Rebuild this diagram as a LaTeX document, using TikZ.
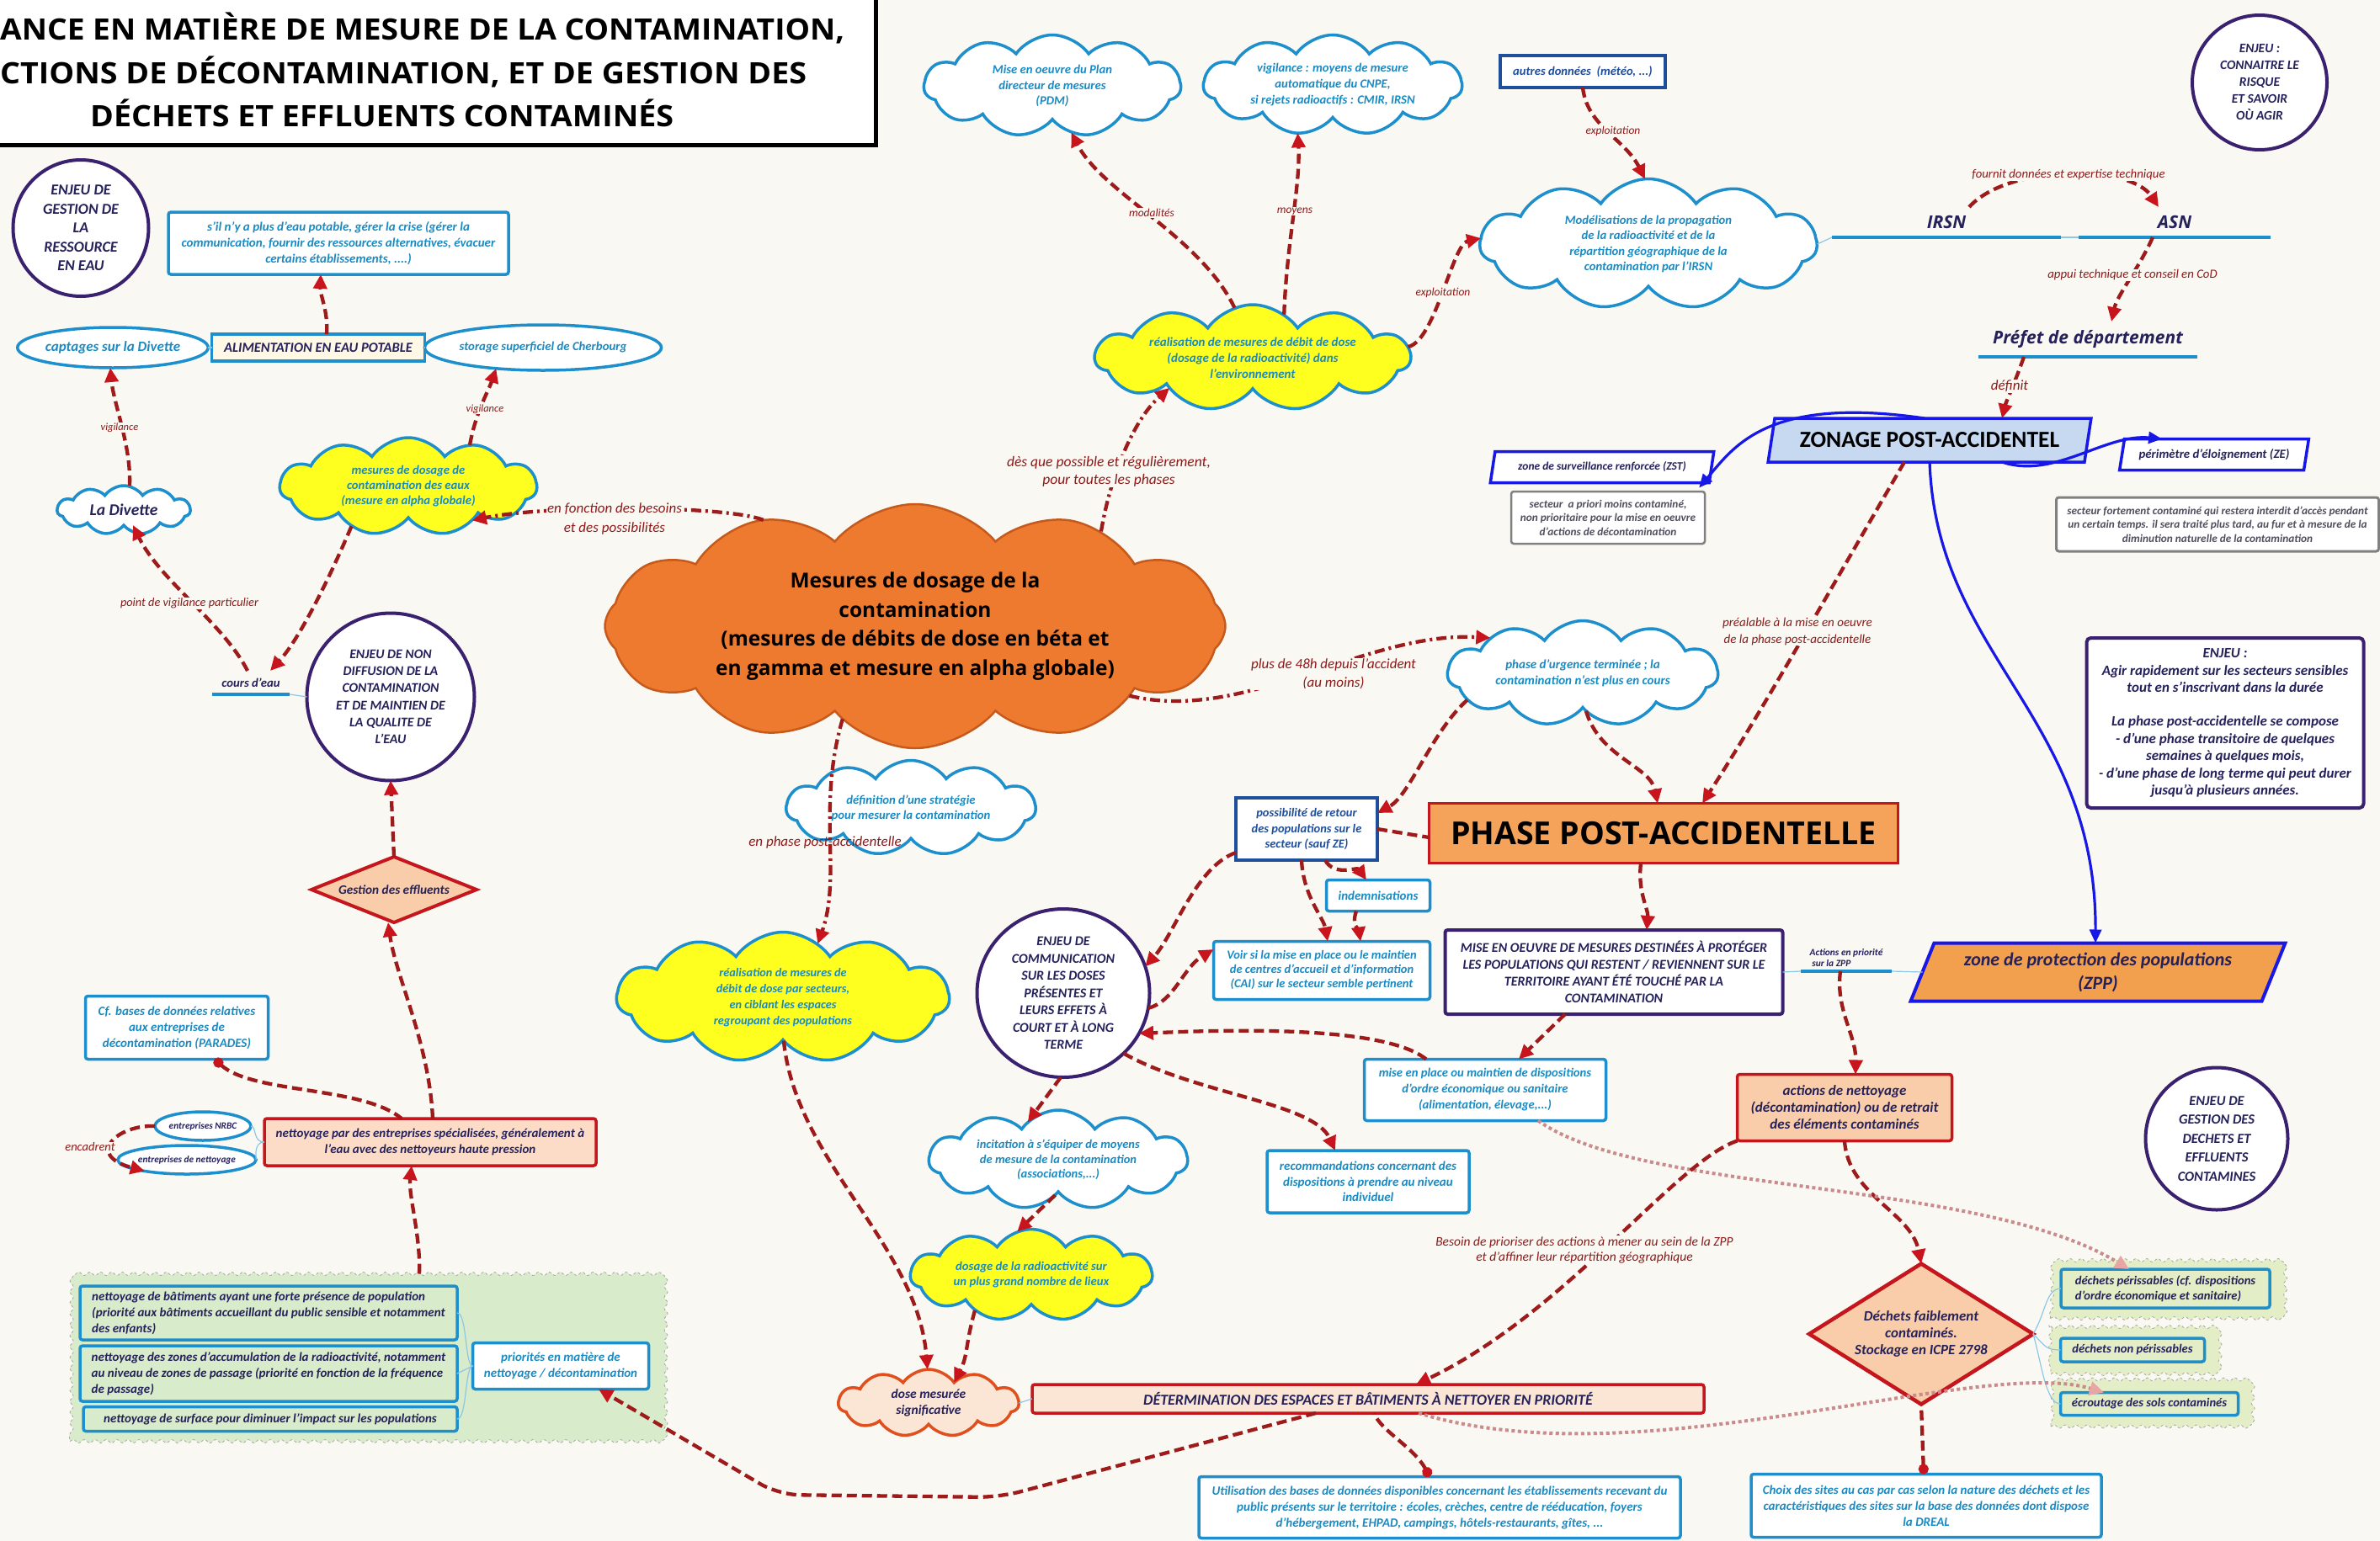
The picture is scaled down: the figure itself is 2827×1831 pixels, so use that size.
\documentclass[tikz,border=0pt]{standalone}
\usepackage{fontspec}
\setmainfont{Carlito}
\newfontfamily\osans{Open Sans}
\usetikzlibrary{shapes.geometric,shapes.symbols,arrows.meta,decorations.pathmorphing}
\newcommand\setfs[2]{\fontsize{#1}{#2}\selectfont}
\newcommand\bfi[2]{\fontsize{#1}{#2}\selectfont\bfseries\itshape}
\definecolor{bg}{HTML}{FAF8F3}
\definecolor{cblue}{HTML}{1C8FCC}
\definecolor{tblue}{HTML}{1A8AC2}
\definecolor{navy}{HTML}{25215A}
\definecolor{purp}{HTML}{3A2170}
\definecolor{darkred}{HTML}{9E1B1B}
\definecolor{tipred}{HTML}{C8141C}
\definecolor{lblred}{HTML}{8C1A1A}
\definecolor{orangec}{HTML}{EE7A30}
\definecolor{orangeb}{HTML}{C65A1C}
\definecolor{yel}{HTML}{FFFF1F}
\definecolor{peach}{HTML}{F9CDAA}
\definecolor{peach2}{HTML}{FCDCC6}
\definecolor{peachlt}{HTML}{FBE6D6}
\definecolor{boxred}{HTML}{C4161C}
\definecolor{phaseor}{HTML}{F5A35A}
\definecolor{zblue}{HTML}{1717E6}
\definecolor{zfill}{HTML}{C6D9F0}
\definecolor{zppor}{HTML}{F3A04E}
\definecolor{greenf}{HTML}{D8EBCB}
\definecolor{greenw}{HTML}{E3EEC6}
\definecolor{grayb}{HTML}{808080}
\definecolor{gtext}{HTML}{4F4F5F}
\definecolor{pinkd}{HTML}{C98B8B}
\definecolor{pinkt}{HTML}{E7A5A5}
\definecolor{navybox}{HTML}{1F4E9B}
\definecolor{lightline}{HTML}{8CC8E6}
\definecolor{cream}{HTML}{FFF8E7}
\definecolor{dosered}{HTML}{E0501E}
\tikzset{
  nb/.style={align=center, inner sep=0pt, outer sep=0pt},
  bbox/.style={nb, draw=cblue, line width=3.5pt, rounded corners=3pt, fill=white, text=tblue, font=\bfi{15}{19}},
  cl/.style={nb, cloud, cloud puffs=11, cloud puff arc=110, cloud ignores aspect, draw=cblue, line width=3.5pt, fill=white, text=tblue, font=\bfi{14.7}{18.6}},
  ycl/.style={cl, fill=yel},
  ell/.style={nb, ellipse, draw=cblue, line width=3.5pt, fill=white, text=tblue, font=\bfi{14.8}{18}},
  enjeu/.style={nb, ellipse, draw=purp, line width=4pt, fill=white, text=navy, font=\bfi{16}{20.5}},
  rbox/.style={nb, draw=boxred, line width=3.5pt, rounded corners=3pt, fill=peach, text=navy, font=\bfi{15}{19}},
  para/.style={nb, trapezium, trapezium left angle=70, trapezium right angle=110, trapezium stretches=true, draw=zblue, line width=3.5pt, fill=white, text=navy, font=\bfi{13.5}{17}},
  gbox/.style={nb, draw=grayb, line width=2.5pt, rounded corners=3pt, fill=white, text=gtext, font=\bfi{13.3}{16.5}},
  hdr/.style={nb, text=navy, font=\osans\bfseries\itshape\setfs{20}{24}},
  lbl/.style={inner sep=1pt, text=lblred, align=center, font=\itshape\setfs{15}{18}},
  lblbg/.style={lbl, fill=bg},
  arr/.style={draw=darkred, line width=4.3pt, dash pattern=on 12pt off 6pt, -{Triangle[length=17pt,width=16pt,color=tipred]}},
  arrdd/.style={arr, dash pattern=on 12pt off 5pt on 3pt off 5pt},
  dotarr/.style={draw=pinkd, line width=4pt, dash pattern=on 4pt off 3.5pt, -{Triangle[length=17pt,width=16pt,color=pinkt]}},
  dotln/.style={draw=darkred, line width=4.3pt, dash pattern=on 12pt off 6pt, {Circle[length=12pt,color=tipred]}-},
  thinln/.style={draw=lightline, line width=1.2pt},
  barr/.style={draw=zblue, line width=3.2pt, -{Triangle[length=16pt,width=14pt]}},
  uline/.style={draw=cblue, line width=4.5pt},
  greenwave/.style={nb, decorate, decoration={snake, amplitude=2pt, segment length=13pt}, draw=gray!70, dashed, line width=0.8pt, fill=greenf}
}
\begin{document}
\begin{tikzpicture}[x=1pt,y=-1pt]
\useasboundingbox (0,0) rectangle (2827,1831);
\clip (0,0) rectangle (2827,1831);
\fill[bg] (0,0) rectangle (2827,1831);

% ---------------- title
\draw[line width=5pt, fill=white] (-20,-20) rectangle (1040,172);
\node[anchor=base west, inner sep=0pt, font=\osans\bfseries\setfs{35}{40}] (t1) at (0,47) {\resizebox{1003pt}{\height}{ANCE EN MATIÈRE DE MESURE DE LA CONTAMINATION,}};
\node[anchor=base west, inner sep=0pt, font=\osans\bfseries\setfs{35}{40}] (t2) at (0,99) {\resizebox{958pt}{\height}{CTIONS DE DÉCONTAMINATION, ET DE GESTION DES}};
\node[anchor=base west, inner sep=0pt, font=\osans\bfseries\setfs{35}{40}] (t3) at (107,150) {\resizebox{693pt}{\height}{DÉCHETS ET EFFLUENTS CONTAMINÉS}};

% ---------------- green regions
\node[greenwave, minimum width=700, minimum height=199] (greg) at (433,1613) {};
\node[greenwave, fill=greenw, minimum width=271, minimum height=69] (wv1) at (2571,1532) {};
\node[greenwave, fill=greenw, minimum width=196, minimum height=55] (wv2) at (2534,1605) {};
\node[greenwave, fill=greenw, minimum width=234, minimum height=52] (wv3) at (2553,1669) {};

% ---------------- water section
\node[enjeu, minimum width=161, minimum height=162, font=\bfi{18}{22.5}] (ej1) at (96,271) {ENJEU DE\\GESTION DE\\LA\\RESSOURCE\\EN EAU};
\node[bbox, minimum width=404, minimum height=74] (sil) at (402,289) {s'il n'y a plus d'eau potable, gérer la crise (gérer la\\communication, fournir des ressources alternatives, évacuer\\certains établissements, ....)};
\node[nb, draw=cblue, line width=3.5pt, fill=cream, text=navy, font=\bfi{16.5}{18}, minimum width=253, minimum height=32] (alim) at (378,413) {ALIMENTATION EN EAU POTABLE};
\node[ell, minimum width=200, minimum height=48, font=\bfi{17}{19}] (capt) at (134,413) {captages sur la Divette};
\node[ell, minimum width=244, minimum height=54] (stor) at (645,413) {storage superficiel de Cherbourg};
\draw[thinln] (capt.east) -- (alim.west);
\draw[thinln] (alim.east) -- (stor.west);
\node[cl, text=navy, font=\bfi{19.5}{22}, minimum width=158, minimum height=58] (div) at (147,606) {La Divette};
\node[ycl, minimum width=305, minimum height=116, font=\bfi{14.7}{18}] (yeaux) at (485,578) {mesures de dosage de\\contamination des eaux\\(mesure en alpha globale)};
\node[nb, text=navy, font=\bfi{14.7}{16}, minimum width=92, minimum height=28] (cours) at (298,811) {cours d'eau};
\draw[uline] (cours.south west) -- (cours.south east);
\node[enjeu, minimum width=199, minimum height=199, font=\bfi{15.8}{20.3}] (ej2) at (464,828) {ENJEU DE NON\\DIFFUSION DE LA\\CONTAMINATION\\ET DE MAINTIEN DE\\LA QUALITE DE\\L'EAU};
\draw[thinln] (cours.south east) -- (ej2.west);
\node[nb, diamond, aspect=2.5, draw=boxred, line width=4pt, fill=peach, text=navy, font=\bfi{15.3}{17}, minimum width=196, minimum height=78] (geff) at (468,1057) {Gestion des effluents};
\node[bbox, minimum width=217, minimum height=75] (cfb) at (210,1221) {Cf. bases de données relatives\\aux entreprises de\\décontamination (PARADES)};
\node[rbox, fill=peach2, minimum width=394, minimum height=56] (nett) at (511,1357) {nettoyage par des entreprises spécialisées, généralement à\\l'eau avec des nettoyeurs haute pression};
\node[ell, text=navy, font=\bfi{11.3}{13}, minimum width=106, minimum height=34] (nrbc) at (241,1338) {entreprises NRBC};
\node[ell, text=navy, font=\bfi{11.3}{13}, minimum width=145, minimum height=34] (enet) at (222,1378) {entreprises de nettoyage};
\node[bbox, fill=greenf, text=navy, align=left, minimum width=448, minimum height=64] (ga) at (319,1560) {nettoyage de bâtiments ayant une forte présence de population\\(priorité aux bâtiments accueillant du public sensible et notamment\\des enfants)};
\node[bbox, fill=greenf, text=navy, align=left, minimum width=448, minimum height=66] (gb) at (319,1632) {nettoyage des zones d'accumulation de la radioactivité, notamment\\au niveau de zones de passage (priorité en fonction de la fréquence\\de passage)};
\node[bbox, fill=greenf, text=navy, minimum width=444, minimum height=29] (gc) at (321,1686) {nettoyage de surface pour diminuer l'impact sur les populations};
\node[bbox, minimum width=209, minimum height=55] (prio) at (666,1623) {priorités en matière de\\nettoyage / décontamination};

% ---------------- centre
\node[nb, cloud, cloud puffs=12, cloud puff arc=100, cloud ignores aspect, draw=orangeb, line width=2.5pt, fill=orangec, text=black, font=\osans\bfseries\setfs{24.5}{34.5}, minimum width=737, minimum height=290] (orc) at (1087,744) {Mesures de dosage de la\\contamination\\(mesures de débits de dose en béta et\\en gamma et mesure en alpha globale)};
\node[cl, minimum width=305, minimum height=121] (pdm) at (1250,102) {Mise en oeuvre du Plan\\directeur de mesures\\(PDM)};
\node[cl, minimum width=307, minimum height=119, font=\bfi{14.7}{19}] (vig) at (1583,101) {vigilance : moyens de mesure\\automatique du CNPE,\\si rejets radioactifs : CMIR, IRSN};
\node[nb, draw=navybox, line width=3.5pt, fill=white, text=navybox, font=\bfi{14.6}{17}, minimum width=196, minimum height=38] (autres) at (1880,85) {autres données~~(météo, ...)};
\node[cl, minimum width=400, minimum height=155] (model) at (1958,290) {Modélisations de la propagation\\de la radioactivité et de la\\répartition géographique de la\\contamination par l'IRSN};
\node[ycl, minimum width=374, minimum height=126, font=\bfi{15}{19}] (yenv) at (1488,425) {réalisation de mesures de débit de dose\\(dosage de la radioactivité) dans\\l'environnement};
\node[hdr, font=\osans\bfseries\itshape\setfs{21}{24}, minimum width=272, minimum height=36] (irsn) at (2312,264) {IRSN};
\node[hdr, font=\osans\bfseries\itshape\setfs{21}{24}, minimum width=228, minimum height=36] (asn) at (2583,264) {ASN};
\draw[uline] (irsn.south west) -- (irsn.south east);
\draw[uline] (asn.south west) -- (asn.south east);
\node[hdr, font=\osans\bfseries\itshape\setfs{21}{24}, minimum width=260, minimum height=42] (pref) at (2480,403) {Préfet de département};
\draw[uline] (pref.south west) -- (pref.south east);
\node[para, fill=zfill, text=black, font=\bfseries\setfs{27.5}{30}, minimum width=385, minimum height=52] (zon) at (2292,523) {ZONAGE POST-ACCIDENTEL};
\node[para, minimum width=266, minimum height=37] (zst) at (1903,555) {zone de surveillance renforcée (ZST)};
\node[gbox, minimum width=230, minimum height=62] (zstg) at (1910,615) {secteur~ a priori moins contaminé,\\non prioritaire pour la mise en oeuvre\\d'actions de décontamination};
\node[para, font=\bfi{14.8}{17}, minimum width=225, minimum height=37] (ze) at (2630,540) {périmètre d'éloignement (ZE)};
\node[gbox, line width=3pt, minimum width=383, minimum height=64] (zeg) at (2634,623) {secteur fortement contaminé qui restera interdit d'accès pendant\\un certain temps. il sera traité plus tard, au fur et à mesure de la\\diminution naturelle de la contamination};
\node[nb, draw=purp, line width=4pt, rounded corners=5pt, fill=white, text=navy, font=\bfi{17}{20.4}, minimum width=329, minimum height=202] (enjr) at (2643,859) {ENJEU :\\Agir rapidement sur les secteurs sensibles\\tout en s'inscrivant dans la durée\\[20pt]La phase post-accidentelle se compose\\- d'une phase transitoire de quelques\\semaines à quelques mois,\\- d'une phase de long terme qui peut durer\\jusqu'à plusieurs années.};
\node[enjeu, minimum width=160, minimum height=160, font=\bfi{15.5}{20}] (ejk) at (2684,98) {ENJEU :\\CONNAITRE LE\\RISQUE\\ET SAVOIR\\OÙ AGIR};
\node[cl, minimum width=321, minimum height=125, font=\bfi{15}{19}] (urg) at (1880,800) {phase d'urgence terminée ; la\\contamination n'est plus en cours};
\node[nb, draw=boxred, line width=3pt, fill=phaseor, text=black, font=\osans\bfseries\setfs{37.5}{40}, minimum width=557, minimum height=71] (phase) at (1976,990) {PHASE POST-ACCIDENTELLE};
\node[nb, draw=navybox, line width=4pt, fill=white, text=navybox, font=\bfi{14.5}{18.6}, minimum width=168, minimum height=74] (poss) at (1552,985) {possibilité de retour\\des populations sur le\\secteur (sauf ZE)};
\node[bbox, minimum width=123, minimum height=37] (indem) at (1637,1064) {indemnisations};
\node[bbox, font=\bfi{14.5}{17}, minimum width=257, minimum height=69] (voir) at (1570,1153) {Voir si la mise en place ou le maintien\\de centres d'accueil et d'information\\(CAI) sur le secteur semble pertinent};
\node[enjeu, minimum width=205, minimum height=200] (ej3) at (1263,1180) {ENJEU DE\\COMMUNICATION\\SUR LES DOSES\\PRÉSENTES ET\\LEURS EFFETS À\\COURT ET À LONG\\TERME};
\node[nb, draw=purp, line width=4pt, rounded corners=3pt, fill=white, text=navy, font=\bfi{16}{20}, minimum width=401, minimum height=100] (mise) at (1917,1155) {MISE EN OEUVRE DE MESURES DESTINÉES À PROTÉGER\\LES POPULATIONS QUI RESTENT / REVIENNENT SUR LE\\TERRITOIRE AYANT ÉTÉ TOUCHÉ PAR LA\\CONTAMINATION};
\node[nb, text=navy, align=left, font=\bfi{11.4}{13}, minimum width=108, minimum height=32] (actp) at (2193,1138) {Actions en priorité\\~sur la ZPP};
\draw[uline] (actp.south west) -- (actp.south east);
\node[para, trapezium left angle=64, trapezium right angle=116, line width=4pt, fill=zppor, text=navy, font=\bfi{22}{28}, minimum width=445, minimum height=69] (zpp) at (2492,1155) {zone de protection des populations\\(ZPP)};
\draw[thinln] (mise.east) -- (actp.south west);
\draw[thinln] (actp.south east) -- (zpp.west);
\node[bbox, font=\bfi{14.7}{19}, minimum width=287, minimum height=73] (mep) at (1764,1295) {mise en place ou maintien de dispositions\\d'ordre économique ou sanitaire\\(alimentation, élevage,...)};
\node[rbox, font=\bfi{17}{20}, minimum width=255, minimum height=79] (actn) at (2191,1316) {actions de nettoyage\\(décontamination) ou de retrait\\des éléments contaminés};
\node[enjeu, minimum width=169, minimum height=169, font=\bfi{16.5}{22.5}] (ej4) at (2633,1353) {ENJEU DE\\GESTION DES\\DECHETS ET\\EFFLUENTS\\CONTAMINES};
\node[cl, minimum width=307, minimum height=118, font=\bfi{14.5}{17.5}] (inc) at (1257,1378) {incitation à s'équiper de moyens\\de mesure de la contamination\\(associations,...)};
\node[bbox, minimum width=240, minimum height=74, font=\bfi{15}{18.5}] (reco) at (1625,1404) {recommandations concernant des\\dispositions à prendre au niveau\\individuel};
\node[ycl, minimum width=287, minimum height=109, font=\bfi{14.7}{18}] (dosg) at (1225,1515) {dosage de la radioactivité sur\\un plus grand nombre de lieux};
\node[ycl, minimum width=395, minimum height=155, font=\bfi{14.3}{19}] (ysec) at (930,1185) {réalisation de mesures de\\débit de dose par secteurs,\\en ciblant les espaces\\regroupant des populations};
\node[cl, minimum width=296, minimum height=113, font=\bfi{14.7}{18}] (defs) at (1082,960) {définition d'une stratégie\\pour mesurer la contamination};
\node[cl, draw=dosered, fill=peachlt, text=navy, font=\bfi{15.5}{19}, minimum width=214, minimum height=80] (dose) at (1103,1667) {dose mesurée\\significative};
\node[rbox, fill=peachlt, font=\bfi{18}{20}, minimum width=798, minimum height=34] (det) at (1625,1662) {DÉTERMINATION DES ESPACES ET BÂTIMENTS À NETTOYER EN PRIORITÉ};
\draw[thinln] (dose.east) -- (det.west);
\node[bbox, minimum width=572, minimum height=73] (util) at (1710,1791) {Utilisation des bases de données disponibles concernant les établissements recevant du\\public présents sur le territoire : écoles, crèches, centre de rééducation, foyers\\d'hébergement, EHPAD, campings, hôtels-restaurants, gîtes, ...};
\node[nb, diamond, aspect=1.6, draw=boxred, line width=4.5pt, fill=peach, text=navy, font=\bfi{17}{20}, minimum width=266, minimum height=167] (dech) at (2282,1585) {Déchets faiblement\\contaminés.\\Stockage en ICPE 2798};
\node[bbox, minimum width=416, minimum height=75] (choix) at (2288,1789) {Choix des sites au cas par cas selon la nature des déchets et les\\caractéristiques des sites sur la base des données dont dispose\\la DREAL};
\node[bbox, fill=greenw, text=navy, align=left, font=\bfi{14.6}{18}, minimum width=248, minimum height=46] (dp) at (2572,1531) {déchets périssables (cf. dispositions\\d'ordre économique et sanitaire)};
\node[bbox, fill=greenw, text=navy, font=\bfi{14.6}{18}, minimum width=171, minimum height=28] (dnp) at (2533,1604) {déchets non périssables};
\node[bbox, fill=greenw, text=navy, font=\bfi{14.6}{18}, minimum width=211, minimum height=27] (ecr) at (2553,1668) {écroutage des sols contaminés};
\draw[thinln] (dech.east) .. controls (2430,1560) and (2430,1531) .. (dp.west);
\draw[thinln] (dech.east) .. controls (2430,1600) and (2430,1604) .. (dnp.west);
\draw[thinln] (dech.east) .. controls (2425,1620) and (2430,1668) .. (ecr.west);
\draw[thinln] (nrbc.east) .. controls (305,1338) and (300,1357) .. (nett.west);
\draw[thinln] (enet.east) .. controls (305,1378) and (300,1357) .. (nett.west);
\draw[thinln] (ga.east) .. controls (555,1560) and (552,1623) .. (prio.west);
\draw[thinln] (gb.east) -- (prio.west);
\draw[thinln] (gc.east) .. controls (555,1686) and (552,1623) .. (prio.west);
\draw[thinln] (model.east) -- (irsn.south west);
\draw[thinln] (irsn.south east) -- (asn.south west);

% ---------------- connectors: water
\draw[arr] ([xshift=10]alim.north) .. controls (390,370) and (380,350) .. ([xshift=-21]sil.south);
\draw[arr] ([xshift=7]div.north) .. controls (156,530) and (135,480) .. ([xshift=-3]capt.south);
\node[lblbg, font=\itshape\setfs{12.5}{14}] at (142,508) {vigilance};
\draw[arr] (yeaux.34) .. controls (565,490) and (580,465) .. (stor.-156);
\node[lblbg, font=\itshape\setfs{12.5}{14}] at (576,486) {vigilance};
\draw[arr] ([xshift=-4]cours.north) .. controls (265,740) and (190,690) .. ([xshift=11]div.south);
\node[lblbg, font=\itshape\setfs{14.3}{16}] at (225,717) {point de vigilance particulier};
\draw[arr] (yeaux.-145) .. controls (390,690) and (355,760) .. ([xshift=23]cours.north);
\draw[arrdd] (orc.145) .. controls (860,600) and (650,600) .. (yeaux.-28);
\node[lblbg, font=\itshape\setfs{17}{23}] at (730,616) {en fonction des besoins\\et des possibilités};

% ---------------- connectors: top centre
\draw[arrdd] (orc.27) .. controls (1318,570) and (1345,500) .. (yenv.-160);
\node[lblbg, font=\itshape\setfs{17.5}{21}] at (1317,560) {dès que possible et régulièrement,\\pour toutes les phases};
\draw[arr] (yenv.110) .. controls (1425,280) and (1310,230) .. (pdm.-68);
\node[lblbg, font=\itshape\setfs{13.5}{15}] at (1368,253) {modalités};
\draw[arr] (yenv.54) .. controls (1528,290) and (1545,220) .. (vig.-126);
\node[lblbg, font=\itshape\setfs{13.5}{15}] at (1538,251) {moyens};
\draw[arr] (yenv.4) .. controls (1705,405) and (1725,290) .. (model.178);
\node[lblbg, font=\itshape\setfs{13.5}{15}] at (1714,348) {exploitation};
\draw[arr] (autres.south) .. controls (1885,150) and (1930,165) .. (model.93);
\node[lblbg, font=\itshape\setfs{13.5}{15}] at (1916,156) {exploitation};
\draw[arr] ([xshift=27]irsn.north) .. controls (2385,195) and (2530,195) .. ([xshift=-19]asn.north);
\node[lblbg, font=\itshape\setfs{14.8}{16}] at (2457,208) {fournit données et expertise technique};
\draw[arr] ([xshift=-26]asn.south) .. controls (2540,320) and (2515,350) .. ([xshift=28]pref.north);
\node[lblbg, font=\itshape\setfs{14.8}{16}] at (2533,327) {appui technique et conseil en CoD};
\draw[arr] ([xshift=-76]pref.south) .. controls (2395,450) and (2382,480) .. ([xshift=86]zon.north);
\node[lblbg, font=\itshape\setfs{17}{18}] at (2387,459) {définit};
\draw[barr] ([xshift=20]zon.north west) .. controls (2100,470) and (2060,530) .. ([xshift=-12,yshift=-6]zst.bottom right corner);
\draw[barr] ([xshift=86]zon.south) .. controls (2440,570) and (2500,515) .. ([xshift=-62]ze.north);
\draw[barr] (zon.south) .. controls (2300,780) and (2490,850) .. ([xshift=-3]zpp.north);
\draw[arr] ([xshift=-30]zon.south) .. controls (2180,690) and (2090,850) .. ([xshift=46]phase.north);
\node[lblbg, font=\itshape\setfs{15}{20}] at (2135,750) {préalable à la mise en oeuvre\\de la phase post-accidentelle};

% ---------------- connectors: middle
\draw[arrdd] (orc.-18) .. controls (1480,860) and (1620,750) .. (urg.159);
\node[lblbg, font=\itshape\setfs{17}{22}] at (1584,801) {plus de 48h depuis l'accident\\(au moins)};
\draw[arr] (urg.-85) .. controls (1900,900) and (1960,910) .. ([xshift=-7]phase.north);
\draw[arr] (urg.-167) .. controls (1700,870) and (1675,945) .. ([yshift=-18]poss.north east);
\draw[arr, -] (poss.east) -- ([yshift=-5]phase.west);
\draw[arr] ([xshift=22]poss.south) .. controls (1585,1042) and (1612,1030) .. ([xshift=-14]indem.north);
\draw[arr] ([xshift=-6]poss.south) .. controls (1548,1065) and (1572,1090) .. ([xshift=7]voir.north);
\draw[arr] ([xshift=-26]indem.south) .. controls (1605,1100) and (1614,1105) .. ([xshift=46]voir.north);
\draw[arr] ([yshift=-28]poss.west) .. controls (1420,1030) and (1395,1110) .. (ej3.18);
\draw[arr] (ej3.-10) .. controls (1395,1190) and (1405,1150) .. ([yshift=25]voir.west);
\draw[arr] ([xshift=-27]phase.south) .. controls (1945,1060) and (1958,1080) .. ([xshift=39]mise.north);
\draw[arr] ([xshift=-58]mise.south) -- ([xshift=40]mep.north);
\draw[arr] ([xshift=-70]mep.north) .. controls (1640,1215) and (1430,1225) .. (ej3.-28);
\draw[arr] (ej3.-45) .. controls (1420,1300) and (1560,1310) .. ([xshift=-39]reco.north);
\draw[arr] ([xshift=-3]ej3.south) -- (inc.129);
\draw[arr] (inc.-95) -- (dosg.108);
\draw[arr] (dosg.-148) .. controls (1146,1600) and (1150,1610) .. (dose.39);
\draw[arr] (ysec.-89) .. controls (945,1380) and (1090,1480) .. (dose.92);
\draw[arrdd] (orc.-128) .. controls (970,960) and (1000,1040) .. (ysec.57);
\node[lbl, font=\itshape\setfs{17}{19}] at (980,1001) {en phase post-accidentelle};

% ---------------- connectors: bottom left
\draw[arr] (geff.north) -- (ej2.south);
\draw[arr] ([xshift=3]nett.north) .. controls (510,1240) and (470,1160) .. ([xshift=-7]geff.south);
\draw[dotln] ([xshift=45]cfb.south) .. controls (300,1300) and (430,1290) .. ([xshift=-34]nett.north);
\draw[arr] (nrbc.west) .. controls (140,1336) and (100,1372) .. (enet.195);
\node[lblbg, font=\itshape\setfs{14.5}{16}] at (107,1363) {encadrent};
\draw[arr] ([xshift=65]greg.north) .. controls (500,1470) and (485,1420) .. ([xshift=-22]nett.south);
\coordinate (w1) at (1187,1779);
\coordinate (w2) at (925,1776);
\draw[arr, rounded corners=25pt] ([xshift=-62]det.south) -- (w1) -- (w2) -- ([xshift=45]prio.south);

% ---------------- connectors: bottom right
\draw[arr] ([xshift=-7]actp.south) .. controls (2180,1200) and (2205,1230) .. ([xshift=13]actn.north);
\draw[arr] (actn.south) .. controls (2195,1420) and (2270,1440) .. (dech.north);
\draw[dotarr] ([xshift=63]mep.south) .. controls (1950,1420) and (2350,1400) .. ([xshift=-43]dp.north);
\draw[dotarr] ([xshift=60]det.south) .. controls (1950,1760) and (2350,1610) .. ([xshift=-54]ecr.north);
\draw[arr] (actn.south west) .. controls (1990,1380) and (1860,1560) .. ([xshift=57]det.north);
\node[lblbg, font=\itshape\setfs{15.5}{18}] at (1882,1485) {Besoin de prioriser des actions à mener au sein de la ZPP\\et d'affiner leur répartition géographique};
\draw[dotln] ([xshift=-12]util.north) .. controls (1680,1720) and (1640,1700) .. ([xshift=7]det.south);
\draw[dotln] ([xshift=-3]choix.north) -- (dech.south);
\end{tikzpicture}
\end{document}
